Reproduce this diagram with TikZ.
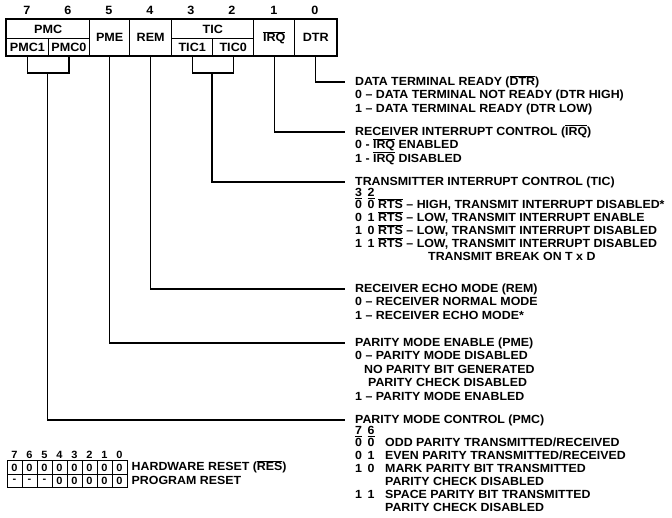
\documentclass[tikz,border=0pt]{standalone}
\usepackage{fontspec}
\setmainfont{Liberation Sans}[FakeStretch=1.05]
\usetikzlibrary{positioning}
\newcommand{\nbar}[1]{\ensuremath{\overline{\mbox{#1}}}}
\newcommand{\twobits}[3][23pt]{\makebox[#1][l]{\makebox[12.5pt][l]{#2}#3}}
\tikzset{
  cell/.style={draw, line width=1.4pt, anchor=north west, inner sep=0pt, font=\bfseries\fontsize{12}{13}\selectfont},
  bitno/.style={inner sep=0pt, font=\bfseries\fontsize{12}{13}\selectfont},
  wire/.style={draw, line width=1.2pt},
  ln/.style={anchor=west, inner sep=0pt, text height=8.5pt, text depth=2pt, font=\bfseries\fontsize{11.8}{13}\selectfont},
  hd/.style={ln, text height=8pt, text depth=0.5pt},
  rc/.style={draw, line width=1pt, minimum width=15pt, minimum height=13.5pt, inner sep=0pt, font=\bfseries\fontsize{10.5}{11}\selectfont},
}

\begin{document}
\begin{tikzpicture}[x=1pt, y=-1pt]
  \useasboundingbox (0,0) rectangle (672,518);

  % register cells
  \node[cell, minimum width=83pt, minimum height=19pt] (pmc) at (6,19) {PMC};
  \node[cell, minimum width=41.5pt, minimum height=17pt] (pmc1) at (6,38) {PMC1};
  \node[cell, minimum width=41.5pt, minimum height=17pt] (pmc0) at (47.5,38) {PMC0};
  \node[cell, minimum width=40pt, minimum height=36pt] (pme) at (89,19) {PME};
  \node[cell, minimum width=42pt, minimum height=36pt] (rem) at (129,19) {REM};
  \node[cell, minimum width=82pt, minimum height=19pt] (tic) at (171,19) {TIC};
  \node[cell, minimum width=41pt, minimum height=17pt] (tic1) at (171,38) {TIC1};
  \node[cell, minimum width=41pt, minimum height=17pt] (tic0) at (212,38) {TIC0};
  \node[cell, minimum width=41pt, minimum height=36pt] (irq) at (253,19) {\nbar{IRQ}};
  \node[cell, minimum width=42pt, minimum height=36pt] (dtr) at (294,19) {DTR};
  \draw[line width=1.8pt] (pmc.north west) rectangle (dtr.south east);

  \foreach \b/\x in {7/27,6/68,5/109,4/150,3/191,2/232,1/274,0/315}
    \node[bitno] (bit\b) at (\x,10) {\b};

  % descriptions
  \node[ln] (dtrt) at (355,82) {DATA TERMINAL READY (\nbar{DTR})};
  \node[ln] (dtra) at (355,95.5) {0 -- DATA TERMINAL NOT READY (DTR HIGH)};
  \node[ln] (dtrb) at (355,109) {1 -- DATA TERMINAL READY (DTR LOW)};

  \node[ln] (irqt) at (355,132) {RECEIVER INTERRUPT CONTROL (\nbar{IRQ})};
  \node[ln] (irqa) at (355,145.5) {0 - \nbar{IRQ} ENABLED};
  \node[ln] (irqb) at (355,159) {1 - \nbar{IRQ} DISABLED};

  \node[ln] (tict) at (355,182) {TRANSMITTER INTERRUPT CONTROL (TIC)};
  \node[hd] (tich) at (355,193) {\twobits{\underline{3}}{\underline{2}}};
  \node[ln] (tica) at (355,205.5) {\twobits{0}{0}\nbar{RTS} -- HIGH, TRANSMIT INTERRUPT DISABLED*};
  \node[ln] (ticb) at (355,218.5) {\twobits{0}{1}\nbar{RTS} -- LOW, TRANSMIT INTERRUPT ENABLE};
  \node[ln] (ticc) at (355,231.5) {\twobits{1}{0}\nbar{RTS} -- LOW, TRANSMIT INTERRUPT DISABLED};
  \node[ln] (ticd) at (355,244.5) {\twobits{1}{1}\nbar{RTS} -- LOW, TRANSMIT INTERRUPT DISABLED};
  \node[ln] (tice) at (428,257.5) {TRANSMIT BREAK ON T x D};

  \node[ln] (remt) at (355,289) {RECEIVER ECHO MODE (REM)};
  \node[ln] (rema) at (355,302.5) {0 -- RECEIVER NORMAL MODE};
  \node[ln] (remb) at (355,316) {1 -- RECEIVER ECHO MODE*};

  \node[ln] (pmet) at (355,343) {PARITY MODE ENABLE (PME)};
  \node[ln] (pmea) at (355,356.5) {0 -- PARITY MODE DISABLED};
  \node[ln] (pmeb) at (364,370) {NO PARITY BIT GENERATED};
  \node[ln] (pmec) at (368,383.5) {PARITY CHECK DISABLED};
  \node[ln] (pmed) at (355,397) {1 -- PARITY MODE ENABLED};

  \node[ln] (pmct) at (355,420) {PARITY MODE CONTROL (PMC)};
  \node[hd] (pmch) at (355,431) {\twobits[30pt]{\underline{7}}{\underline{6}}};
  \node[ln] (pmca) at (355,443.5) {\twobits[30pt]{0}{0}ODD PARITY TRANSMITTED/RECEIVED};
  \node[ln] (pmcb) at (355,456.5) {\twobits[30pt]{0}{1}EVEN PARITY TRANSMITTED/RECEIVED};
  \node[ln] (pmcc) at (355,469.5) {\twobits[30pt]{1}{0}MARK PARITY BIT TRANSMITTED};
  \node[ln] (pmcd) at (385,482.5) {PARITY CHECK DISABLED};
  \node[ln] (pmce) at (355,495.5) {\twobits[30pt]{1}{1}SPACE PARITY BIT TRANSMITTED};
  \node[ln] (pmcf) at (385,508.5) {PARITY CHECK DISABLED};

  % connectors
  \coordinate (pmcj) at (47.5,73);
  \coordinate (ticj) at (212,73);
  \draw[wire] (pmc1.south) |- (pmcj) -| (pmc0.south);
  \draw[wire] (tic1.south) |- (ticj) -| (tic0.south);
  \draw[wire] (dtr.south) |- ([xshift=-10pt]dtrt.west);
  \draw[wire] (irq.south) |- ([xshift=-10pt]irqt.west);
  \draw[wire] (ticj) |- ([xshift=-10pt]tict.west);
  \draw[wire] (rem.south) |- ([xshift=-10pt]remt.west);
  \draw[wire] (pme.south) |- ([xshift=-10pt]pmet.west);
  \draw[wire] (pmcj) |- ([xshift=-10pt]pmct.west);

  % reset values
  \foreach \b/\w [count=\i from 0] in {7/-,6/-,5/-,4/0,3/0,2/0,1/0,0/0} {
    \node[bitno, font=\bfseries\fontsize{10.5}{11}\selectfont] (rb\b) at ({14.5+15*\i},455) {\b};
    \node[rc] (hw\b) at ({14.5+15*\i},467.5) {0};
    \node[rc] (pr\b) at ({14.5+15*\i},481) {\w};
  }
  \node[ln, right=4pt of hw0] (hwt) {HARDWARE RESET (\nbar{RES})};
  \node[ln, right=4pt of pr0] (prt) {PROGRAM RESET};
\end{tikzpicture}
\end{document}
